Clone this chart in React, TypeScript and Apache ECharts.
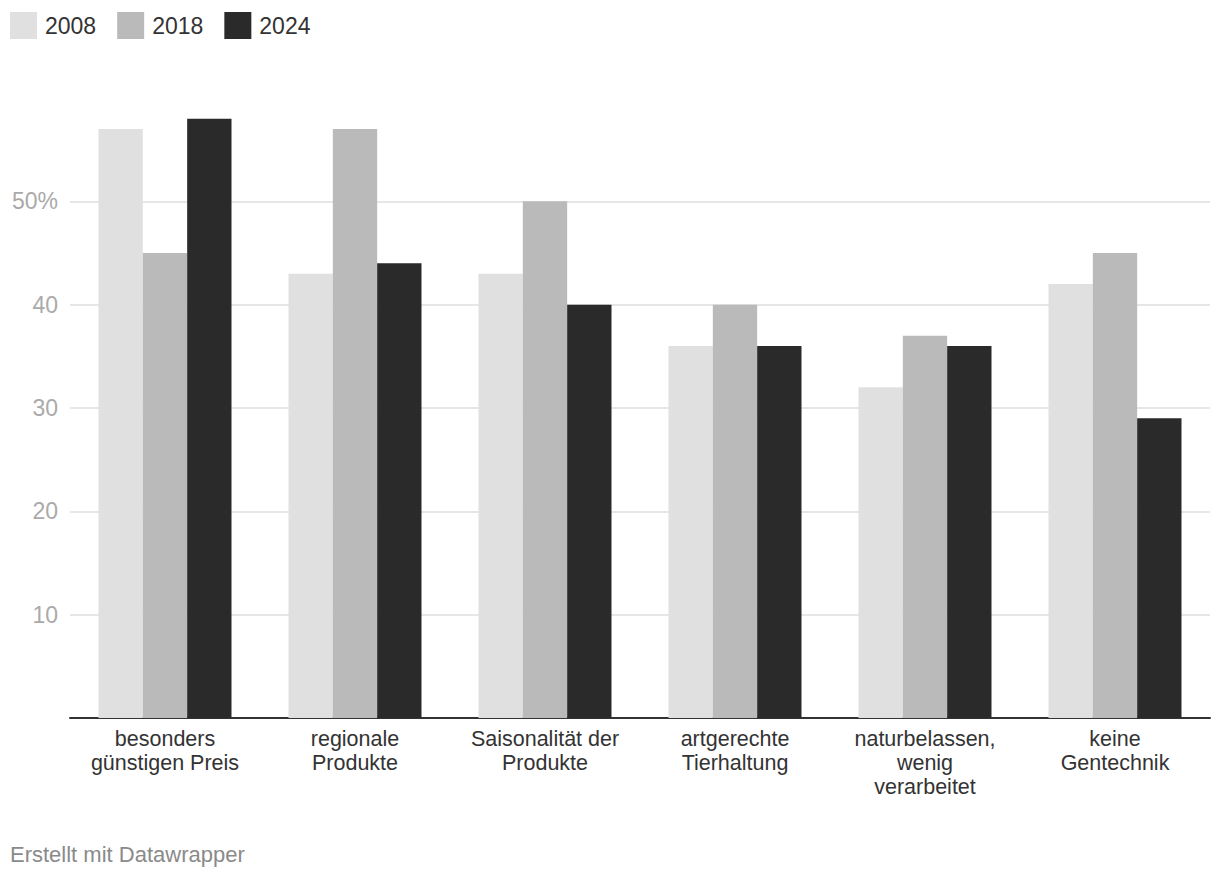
import React, { useEffect, useRef } from "react";
import * as echarts from "echarts";

const categories = [
  "besonders\ngünstigen Preis",
  "regionale\nProdukte",
  "Saisonalität der\nProdukte",
  "artgerechte\nTierhaltung",
  "naturbelassen,\nwenig\nverarbeitet",
  "keine\nGentechnik",
];
const years = ["2008", "2018", "2024"];
const values2008 = [57, 43, 43, 36, 32, 42];
const values2018 = [45, 57, 50, 40, 37, 45];
const values2024 = [58, 44, 40, 36, 36, 29];
const colors = ["#e0e0e0", "#bababa", "#2a2a2a"];

const FONT = "'Liberation Sans', Arial, Helvetica, sans-serif";

export default function App() {
  const ref = useRef<HTMLDivElement>(null);
  useEffect(() => {
    if (!ref.current) return;
    const chart = echarts.init(ref.current, undefined, { renderer: "svg" });
    const seriesData = [values2008, values2018, values2024];
    chart.setOption({
      animation: false,
      backgroundColor: "#ffffff",
      textStyle: { fontFamily: FONT },
      legend: {
        left: 10,
        top: 12,
        padding: 0,
        icon: "rect",
        itemWidth: 27,
        itemHeight: 27,
        itemGap: 21,
        selectedMode: false,
        textStyle: { fontSize: 23, color: "#333333", fontFamily: FONT, padding: [0, 0, 3, 3] },
        data: years,
      },
      grid: { left: 70, right: 10, top: 98, bottom: 162, containLabel: false },
      xAxis: {
        type: "category",
        data: categories,
        axisLine: { show: true, lineStyle: { color: "#333333", width: 2 } },
        axisTick: { show: false },
        axisLabel: {
          fontSize: 21.5,
          color: "#333333",
          lineHeight: 24,
          margin: 9,
          interval: 0,
          fontFamily: FONT,
        },
      },
      yAxis: {
        type: "value",
        min: 0,
        max: 60,
        interval: 10,
        axisLine: { show: false },
        axisTick: { show: false },
        splitLine: {
          show: true,
          showMinLine: false,
          showMaxLine: false,
          lineStyle: { color: "#e6e6e6", width: 2 },
        },
        axisLabel: {
          fontSize: 23,
          color: "#aaaaaa",
          margin: 12,
          showMinLabel: false,
          showMaxLabel: false,
          fontFamily: FONT,
          formatter: (v: number) => (v === 50 ? "50%" : v === 0 || v === 60 ? "" : String(v)),
        },
      },
      series: years.map((y, i) => ({
        name: y,
        type: "bar",
        data: seriesData[i],
        itemStyle: { color: colors[i] },
        barGap: "0%",
        barCategoryGap: "30%",
      })),
      graphic: [
        {
          type: "text",
          left: 10,
          top: 843,
          style: { text: "Erstellt mit Datawrapper", fontSize: 22, fill: "#8a8a8a", fontFamily: FONT },
        },
      ],
    });
    return () => chart.dispose();
  }, []);
  return <div ref={ref} style={{ width: 1220, height: 880, margin: -8 }} />;
}
